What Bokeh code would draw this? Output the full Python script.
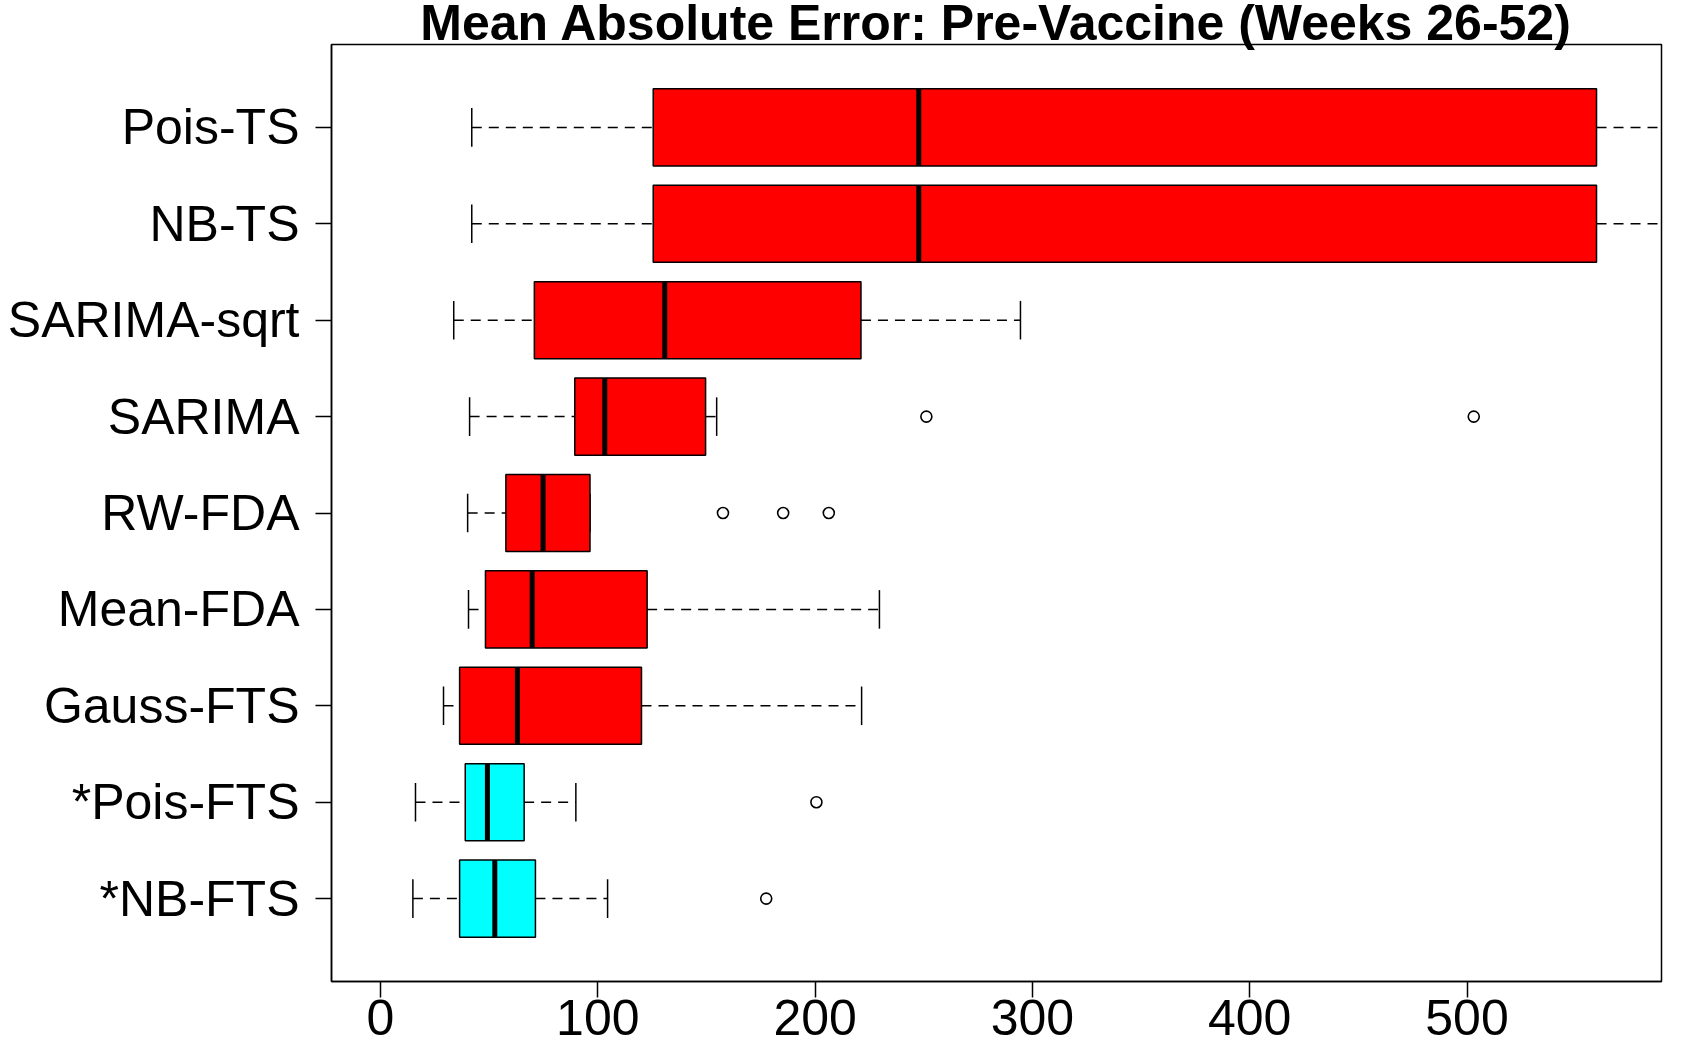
from bokeh.plotting import figure
from bokeh.models import Range1d, FixedTicker
from bokeh.embed import file_html
from bokeh.resources import INLINE

# Forecast methods, bottom to top
methods = ["*NB-FTS", "*Pois-FTS", "Gauss-FTS", "Mean-FDA", "RW-FDA",
           "SARIMA", "SARIMA-sqrt", "NB-TS", "Pois-TS"]

# Five-number summaries of the mean absolute error
whisker_low = [14.9, 16.1, 29.0, 40.5, 40.1, 41.0, 33.7, 42.0, 42.0]
q1 = [36.4, 39.0, 36.4, 48.3, 57.7, 89.4, 70.8, 125.5, 125.5]
median = [52.6, 49.2, 63.0, 69.8, 74.8, 103.2, 130.8, 247.7, 247.7]
q3 = [71.3, 66.1, 120.1, 122.7, 96.4, 149.6, 221.1, 559.6, 559.6]
whisker_high = [104.5, 89.9, 221.4, 229.6, 96.4, 154.7, 294.5, 640.0, 640.0]

# Points beyond the whiskers
outlier_method = ["*NB-FTS", "*Pois-FTS", "RW-FDA", "RW-FDA", "RW-FDA", "SARIMA", "SARIMA"]
outlier_value = [177.5, 200.6, 157.6, 185.3, 206.3, 251.2, 503.1]

highlighted = ["*NB-FTS", "*Pois-FTS"]
x_ticks = [0, 100, 200, 300, 400, 500]

FONT = "Liberation Sans"
pos = {m: i + 1 for i, m in enumerate(methods)}
ys = [pos[m] for m in methods]
colors = ["#00FFFF" if m in highlighted else "#FF0000" for m in methods]

x0, x1 = -22.55, 589.5
y0, y1 = 0.14, 9.86
box_h = 0.8
staple_h = 0.4

p = figure(width=1692, height=1058, toolbar_location=None,
           title="Mean Absolute Error: Pre-Vaccine (Weeks 26-52)",
           output_backend="svg", x_range=Range1d(x0, x1), y_range=Range1d(y0, y1),
           min_border_left=331, min_border_right=31, min_border_top=44,
           min_border_bottom=77)
p.background_fill_color = "white"
p.border_fill_color = "white"
p.outline_line_color = "black"
p.outline_line_width = 1.5
p.xgrid.visible = False
p.ygrid.visible = False

# title hugging the top edge of the frame
p.title.align = "center"
p.title.vertical_align = "middle"
p.title.standoff = -14
p.title.text_font = FONT
p.title.text_font_size = "50px"
p.title.text_font_style = "bold"
p.title.text_color = "black"

# whiskers (dashed) and staples
p.segment(x0=whisker_low, y0=ys, x1=q1, y1=ys, line_color="black",
          line_width=1.5, line_dash="10 7")
p.segment(x0=q3, y0=ys, x1=whisker_high, y1=ys, line_color="black",
          line_width=1.5, line_dash="10 7")
p.segment(x0=whisker_low, y0=[y - staple_h / 2 for y in ys], x1=whisker_low,
          y1=[y + staple_h / 2 for y in ys], line_color="black", line_width=1.5)
p.segment(x0=whisker_high, y0=[y - staple_h / 2 for y in ys], x1=whisker_high,
          y1=[y + staple_h / 2 for y in ys], line_color="black", line_width=1.5)

# boxes
p.hbar(y=ys, height=box_h, left=q1, right=q3, fill_color=colors,
       line_color="black", line_width=1.5)

# medians
p.segment(x0=median, y0=[y - box_h / 2 for y in ys], x1=median,
          y1=[y + box_h / 2 for y in ys], line_color="black", line_width=5,
          line_cap="butt")

# outliers
p.scatter(x=outlier_value, y=[pos[m] for m in outlier_method], size=11,
          marker="circle", fill_color=None, line_color="black", line_width=1.6)

# axes
p.xaxis.ticker = FixedTicker(ticks=x_ticks)
p.xaxis.minor_tick_line_color = None
p.xaxis.major_tick_in = 0
p.xaxis.major_tick_out = 16
p.xaxis.major_tick_line_width = 1.5
p.xaxis.axis_line_width = 1.5
p.xaxis.major_label_standoff = 2
p.xaxis.major_label_text_font = FONT
p.xaxis.major_label_text_font_size = "50px"
p.xaxis.major_label_text_color = "black"

p.yaxis.ticker = FixedTicker(ticks=ys)
p.yaxis.major_label_overrides = {pos[m]: m for m in methods}
p.yaxis.minor_tick_line_color = None
p.yaxis.major_tick_in = 0
p.yaxis.major_tick_out = 16
p.yaxis.major_tick_line_width = 1.5
p.yaxis.axis_line_width = 1.5
p.yaxis.major_label_standoff = 16
p.yaxis.major_label_text_font = FONT
p.yaxis.major_label_text_font_size = "50px"
p.yaxis.major_label_text_color = "black"

open("out.html", "w").write(file_html(p, INLINE))
